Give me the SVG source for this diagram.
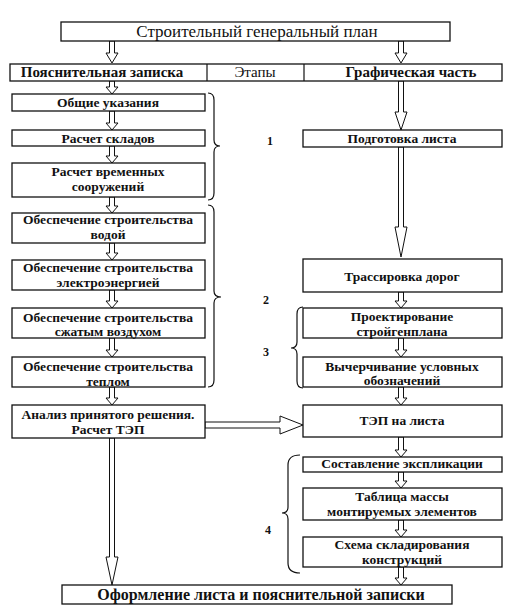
<svg xmlns="http://www.w3.org/2000/svg" width="510" height="608" viewBox="0 0 510 608">
<style>
.box{fill:#fff;stroke:#111;stroke-width:1.3}
.arr{fill:#fff;stroke:#111;stroke-width:1}
.br{fill:none;stroke:#111;stroke-width:1.2}
text{font-family:'Liberation Serif','DejaVu Serif','Times New Roman',serif;fill:#111;text-anchor:middle}
.t{font-size:13.5px;font-weight:bold}
.h{font-size:15px;font-weight:bold}
.n{font-size:12px;font-weight:bold}
</style>
<rect width="510" height="608" fill="#fff"/>
<g id="connectors">
<polygon class="arr" points="109.5,41 109.5,53 106,53 112,63 118,53 114.5,53 114.5,41"/>
<polygon class="arr" points="398.5,41 398.5,53 395,53 401,63 407,53 403.5,53 403.5,41"/>
<polygon class="arr" points="109.5,81 109.5,87 106,87 112,94 118,87 114.5,87 114.5,81"/>
<polygon class="arr" points="109.5,111 109.5,123 106,123 112,130 118,123 114.5,123 114.5,111"/>
<polygon class="arr" points="109.5,146 109.5,156 106,156 112,163 118,156 114.5,156 114.5,146"/>
<polygon class="arr" points="109.5,197 109.5,206 106,206 112,213 118,206 114.5,206 114.5,197"/>
<polygon class="arr" points="109.5,243 109.5,253 106,253 112,260 118,253 114.5,253 114.5,243"/>
<polygon class="arr" points="109.5,290 109.5,301 106,301 112,308 118,301 114.5,301 114.5,290"/>
<polygon class="arr" points="109.5,338 109.5,350 106,350 112,357 118,350 114.5,350 114.5,338"/>
<polygon class="arr" points="109.5,387 109.5,398 106,398 112,405 118,398 114.5,398 114.5,387"/>
<polygon class="arr" points="109.5,438 109.5,557 106,557 112,585 118,557 114.5,557 114.5,438"/>
<polygon class="arr" points="205,422 280,422 280,416 303,425 280,434 280,428 205,428"/>
<polygon class="arr" points="398.5,81 398.5,112 395,112 401,130 407,112 403.5,112 403.5,81"/>
<polygon class="arr" points="398.5,147 398.5,227 395,227 401,257 407,227 403.5,227 403.5,147"/>
<polygon class="arr" points="398.5,292 398.5,301 395,301 401,308 407,301 403.5,301 403.5,292"/>
<polygon class="arr" points="398.5,338 398.5,350 395,350 401,357 407,350 403.5,350 403.5,338"/>
<polygon class="arr" points="398.5,387 398.5,398 395,398 401,405 407,398 403.5,398 403.5,387"/>
<polygon class="arr" points="398.5,437 398.5,450 395,450 401,457 407,450 403.5,450 403.5,437"/>
<polygon class="arr" points="398.5,472 398.5,481 395,481 401,488 407,481 403.5,481 403.5,472"/>
<polygon class="arr" points="398.5,520 398.5,530 395,530 401,537 407,530 403.5,530 403.5,520"/>
<polygon class="arr" points="398.5,567 398.5,578 395,578 401,585 407,578 403.5,578 403.5,567"/>
</g>
<g id="braces">
<path class="br" d="M208,93 Q214,93 214,100 L214,140 Q214,146 220,146 Q214,146 214,152 L214,193 Q214,200 208,200"/>
<path class="br" d="M208,205 Q214,205 214,212 L214,291 Q214,297 221,297 Q214,297 214,303 L214,380 Q214,387 208,387"/>
<path class="br" d="M303,307 Q297,307 297,314 L297,342 Q297,348 291,348 Q297,348 297,354 L297,381 Q297,388 303,388"/>
<path class="br" d="M300,455 Q288,455 288,465 L288,507 Q288,513 282,513 Q288,513 288,519 L288,563 Q288,573 300,573"/>
</g>
<g id="title">
<rect class="box" x="61" y="22" width="389" height="19"/>
<text x="257" y="37" style="font-size:17px">Строительный генеральный план</text>
</g>
<g id="header">
<rect class="box" x="10" y="64" width="492" height="17"/>
<line x1="207" y1="64" x2="207" y2="81" stroke="#111" stroke-width="1.2"/>
<line x1="304" y1="64" x2="304" y2="81" stroke="#111" stroke-width="1.2"/>
<text class="h" x="102" y="77">Пояснительная записка</text>
<text x="255" y="77" style="font-size:15px">Этапы</text>
<text class="h" x="411" y="77">Графическая часть</text>
</g>
<g id="n-general"><rect class="box" x="12" y="94" width="193" height="17"/><text class="t" x="108" y="107">Общие указания</text></g>
<g id="n-warehouses"><rect class="box" x="12" y="130" width="193" height="16"/><text class="t" x="108" y="143">Расчет складов</text></g>
<g id="n-temp"><rect class="box" x="12" y="163" width="193" height="34"/><text class="t" x="108" y="176">Расчет временных</text><text class="t" x="108" y="191">сооружений</text></g>
<g id="n-water"><rect class="box" x="12" y="213" width="193" height="30"/><text class="t" x="108" y="224">Обеспечение строительства</text><text class="t" x="108" y="239">водой</text></g>
<g id="n-electro"><rect class="box" x="12" y="260" width="193" height="30"/><text class="t" x="108" y="272">Обеспечение строительства</text><text class="t" x="108" y="287">электроэнергией</text></g>
<g id="n-air"><rect class="box" x="12" y="308" width="193" height="30"/><text class="t" x="108" y="322">Обеспечение строительства</text><text class="t" x="108" y="336">сжатым воздухом</text></g>
<g id="n-heat"><rect class="box" x="12" y="357" width="193" height="30"/><text class="t" x="108" y="371">Обеспечение строительства</text><text class="t" x="108" y="386">теплом</text></g>
<g id="n-analysis"><rect class="box" x="12" y="405" width="193" height="33"/><text class="t" x="108" y="419">Анализ принятого решения.</text><text class="t" x="108" y="434">Расчет ТЭП</text></g>
<g id="n-sheet"><rect class="box" x="303" y="130" width="199" height="17"/><text class="t" x="402" y="143">Подготовка листа</text></g>
<g id="n-roads"><rect class="box" x="303" y="259" width="199" height="33"/><text class="t" x="402" y="281">Трассировка дорог</text></g>
<g id="n-design"><rect class="box" x="303" y="308" width="199" height="30"/><text class="t" x="402" y="321">Проектирование</text><text class="t" x="402" y="336">стройгенплана</text></g>
<g id="n-symbols"><rect class="box" x="303" y="357" width="199" height="30"/><text class="t" x="402" y="371">Вычерчивание условных</text><text class="t" x="402" y="385">обозначений</text></g>
<g id="n-tep"><rect class="box" x="303" y="405" width="199" height="32"/><text class="t" x="402" y="425">ТЭП на листа</text></g>
<g id="n-explication"><rect class="box" x="303" y="457" width="199" height="15"/><text class="t" x="402" y="468">Составление экспликации</text></g>
<g id="n-mass"><rect class="box" x="303" y="488" width="199" height="32"/><text class="t" x="402" y="501">Таблица массы</text><text class="t" x="402" y="516">монтируемых элементов</text></g>
<g id="n-storage"><rect class="box" x="303" y="537" width="199" height="30"/><text class="t" x="402" y="549">Схема складирования</text><text class="t" x="402" y="564">конструкций</text></g>
<g id="n-final"><rect class="box" x="62" y="585" width="390" height="19"/><text x="261" y="600" style="font-size:16px;font-weight:bold">Оформление листа и пояснительной записки</text></g>
<g id="stages">
<text class="n" x="270" y="145">1</text>
<text class="n" x="266" y="304">2</text>
<text class="n" x="266" y="356">3</text>
<text class="n" x="268" y="534">4</text>
</g>
</svg>
